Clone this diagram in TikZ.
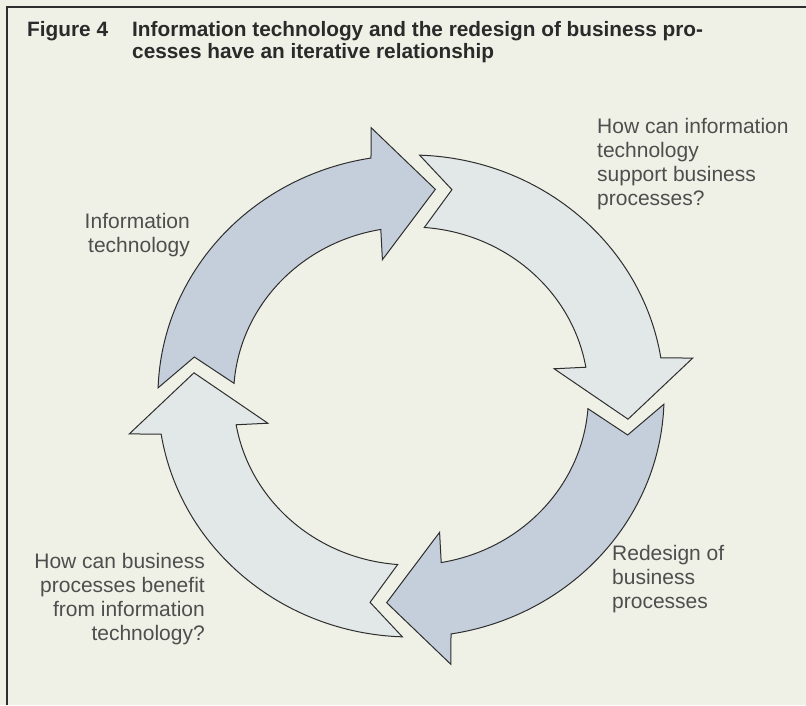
\documentclass[tikz,border=0pt]{standalone}
\usepackage{fontspec}
\setmainfont{Liberation Sans}
\definecolor{paper}{HTML}{EFF1E6}
\definecolor{darkfill}{HTML}{C4CFDB}
\definecolor{lightfill}{HTML}{E2E8E7}
\definecolor{linecol}{HTML}{2E2E2E}
\definecolor{txtcol}{HTML}{4E4E4E}
\definecolor{titlecol}{HTML}{2A2A2A}

% One curved arrow of the cycle: notched tail, arc body, pointed head.
% #1 = rotation of the arrow around the ring, #2 = fill colour
\newcommand\cyclearrow[2]{%
  \begin{scope}[shift={(411,309)}, xscale=1.05, rotate=#1]
    \path[ringarrow, fill=#2]
      (178.05:241) arc[start angle=178.05, end angle=99.1, radius=241]
      -- (98.05:271) -- (83.6:208) -- (101.3:139) -- (99.8:169)
      arc[start angle=99.8, end angle=175.7, radius=169]
      -- (169.3:210) -- cycle;
  \end{scope}}

\begin{document}
\begin{tikzpicture}[x=1pt, y=1pt,
  ringarrow/.style={draw=linecol, line width=1pt, line join=miter},
  label/.style={inner sep=0pt, text=txtcol, font=\fontsize{21}{24}\selectfont},
  heading/.style={inner sep=0pt, text=titlecol, font=\bfseries\fontsize{20.8}{22}\selectfont}]

  % page
  \fill[paper] (0,0) rectangle (806,705);
  \useasboundingbox (0,0) rectangle (806,705);

  % frame rules (left and top)
  \draw[linecol, line width=1.8pt] (7,0) -- (7,698) -- (806,698);

  % caption (base anchor of a multi-line node sits on its last line)
  \node[heading, anchor=base west] (fignum) at (27,668) {Figure 4};
  \node[heading, anchor=base west, align=left] (caption) at (132,646)
    {Information technology and the redesign of business pro-\\cesses have an iterative relationship};

  % the four arrows of the cycle
  \cyclearrow{0}{darkfill}
  \cyclearrow{-90}{lightfill}
  \cyclearrow{-180}{darkfill}
  \cyclearrow{-270}{lightfill}

  % labels
  \node[label, anchor=base east, align=right] (itlabel) at (190,452)
    {Information\\technology};
  \node[label, anchor=base west, align=left] (supportq) at (597,499)
    {How can information\\technology\\support business\\processes?};
  \node[label, anchor=base west, align=left] (redesign) at (612,97)
    {Redesign of\\business\\processes};
  \node[label, anchor=base east, align=right] (benefitq) at (205,65)
    {How can business\\processes benefit\\from information\\technology?};
\end{tikzpicture}
\end{document}
